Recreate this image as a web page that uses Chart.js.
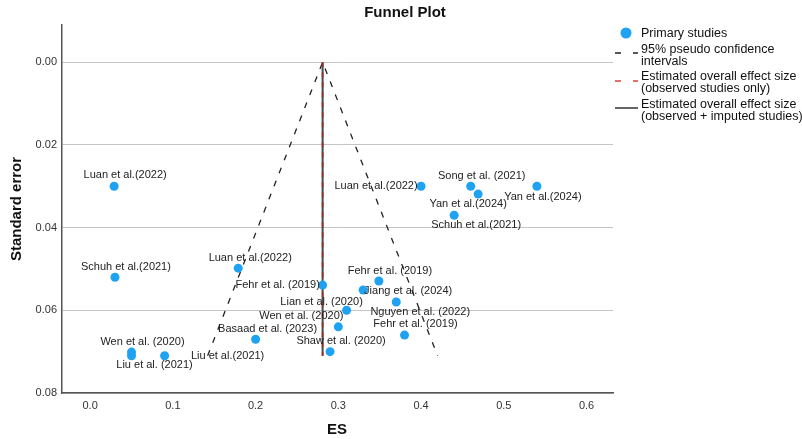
<!DOCTYPE html>
<html>
<head>
<meta charset="utf-8">
<title>Funnel Plot</title>
<script src="https://cdn.jsdelivr.net/npm/chart.js@4.4.1/dist/chart.umd.min.js"></script>
<style>
  html, body { margin: 0; padding: 0; background: #fff; }
  #wrap { position: relative; width: 802px; height: 439px; }
</style>
</head>
<body>
<div id="wrap"><canvas id="funnel" width="802" height="439"></canvas></div>
<script>
// study data
const studies = [
  'Luan et al.(2022)', 'Schuh et al.(2021)', 'Wen et al. (2020)', 'Liu et al. (2021)',
  'Liu et al.(2021)', 'Luan et al.(2022)', 'Basaad et al. (2023)', 'Fehr et al. (2019)',
  'Lian et al. (2020)', 'Wen et al. (2020)', 'Shaw et al. (2020)', 'Fehr et al. (2019)',
  'Jiang et al. (2024)', 'Nguyen et al. (2022)', 'Fehr et al. (2019)', 'Luan et al.(2022)',
  'Song et al. (2021)', 'Yan et al.(2024)', 'Yan et al.(2024)', 'Schuh et al.(2021)'
];
const esValues = [0.029, 0.030, 0.050, 0.050, 0.090, 0.179, 0.200, 0.281, 0.310, 0.300,
  0.290, 0.349, 0.330, 0.370, 0.380, 0.400, 0.460, 0.469, 0.540, 0.440];
const seValues = [0.030, 0.052, 0.0701, 0.0710, 0.0710, 0.0498, 0.067, 0.0539, 0.060, 0.064,
  0.070, 0.0529, 0.0551, 0.058, 0.066, 0.030, 0.030, 0.0319, 0.030, 0.037];

// funnel: pseudo 95% limits and pooled estimate
const ciEs = [0.142, 0.281, 0.420];
const ciSe = [0.071, 0, 0.071];
const pooledEs = [0.281, 0.281];
const pooledSe = [0, 0.071];

const xTicks = [0, 0.1, 0.2, 0.3, 0.4, 0.5, 0.6];
const yTicks = [0, 0.02, 0.04, 0.06, 0.08];

// where each study label sits relative to its dot (px)
const labelDx = [11, 11, 11, 23, 63, 12, 12, -45, -25, -37, 11, 11, 45, 24, 11, -45, 11, -10, 6, 22];
const labelDy = [-11, -10, -10, 9, 0, -10, -10, 0, -8, -11, -11, -10, 1, 10, -11, 0, -10, 10, 11, 10];

const FONT = '"Liberation Sans", Arial, sans-serif';
const BLUE = '#1fa2f2';
Chart.defaults.font.family = FONT;

const annotate = {
  id: 'annotate',
  afterDatasetsDraw(chart) {
    const { ctx } = chart;
    const xs = chart.scales.x, ys = chart.scales.y;
    ctx.save();
    ctx.font = '11px ' + FONT;
    ctx.fillStyle = '#222';
    ctx.textAlign = 'center';
    ctx.textBaseline = 'middle';
    studies.forEach((name, i) => {
      const px = xs.getPixelForValue(esValues[i]);
      const py = ys.getPixelForValue(seValues[i]);
      ctx.fillText(name, px + labelDx[i], py + labelDy[i]);
    });
    ctx.restore();
  },
  afterDraw(chart) {
    const { ctx } = chart;
    ctx.save();
    ctx.fillStyle = '#111';
    ctx.textBaseline = 'middle';

    // titles
    ctx.textAlign = 'center';
    ctx.font = 'bold 15px ' + FONT;
    ctx.fillText('Funnel Plot', 405, 13);
    ctx.fillText('ES', 337, 430);
    ctx.save();
    ctx.translate(17, 209);
    ctx.rotate(-Math.PI / 2);
    ctx.fillText('Standard error', 0, 0);
    ctx.restore();

    // legend
    ctx.beginPath();
    ctx.arc(626, 33, 5.5, 0, Math.PI * 2);
    ctx.fillStyle = BLUE;
    ctx.fill();

    ctx.fillStyle = '#111';
    ctx.textAlign = 'left';
    ctx.font = '12.5px ' + FONT;
    ctx.fillText('Primary studies', 641, 34);
    ctx.fillText('95% pseudo confidence', 641, 50);
    ctx.fillText('intervals', 641, 62);
    ctx.fillText('Estimated overall effect size', 641, 77);
    ctx.fillText('(observed studies only)', 641, 89);
    ctx.fillText('Estimated overall effect size', 641, 105);
    ctx.fillText('(observed + imputed studies)', 641, 117);

    ctx.lineWidth = 1.3;
    ctx.setLineDash([6, 12]);
    ctx.strokeStyle = '#222';
    ctx.beginPath(); ctx.moveTo(615, 53); ctx.lineTo(638, 53); ctx.stroke();
    ctx.strokeStyle = '#e0413a';
    ctx.beginPath(); ctx.moveTo(615, 81); ctx.lineTo(638, 81); ctx.stroke();
    ctx.setLineDash([]);
    ctx.strokeStyle = '#333';
    ctx.lineWidth = 1.5;
    ctx.beginPath(); ctx.moveTo(615, 108); ctx.lineTo(638, 108); ctx.stroke();
    ctx.restore();
  }
};

const ctx = document.getElementById('funnel').getContext('2d');
new Chart(ctx, {
  type: 'scatter',
  data: {
    datasets: [
      {
        label: 'Primary studies',
        data: esValues.map((x, i) => ({ x, y: seValues[i] })),
        backgroundColor: BLUE,
        borderWidth: 0,
        pointRadius: 4.5,
        order: 0
      },
      {
        label: '95% pseudo confidence intervals',
        data: ciEs.map((x, i) => ({ x, y: ciSe[i] })),
        showLine: true,
        borderColor: '#222',
        borderWidth: 1.3,
        borderDash: [6, 8],
        pointRadius: 0,
        order: 3
      },
      {
        label: 'Estimated overall effect size (observed + imputed studies)',
        data: pooledEs.map((x, i) => ({ x, y: pooledSe[i] })),
        showLine: true,
        borderColor: '#4a4a4a',
        borderWidth: 2,
        pointRadius: 0,
        order: 2
      },
      {
        label: 'Estimated overall effect size (observed studies only)',
        data: pooledEs.map((x, i) => ({ x, y: pooledSe[i] })),
        showLine: true,
        borderColor: '#9e2a22',
        borderWidth: 1.6,
        borderDash: [5, 5],
        pointRadius: 0,
        order: 1
      }
    ]
  },
  options: {
    responsive: false,
    animation: false,
    layout: { padding: { left: 0, top: 25, right: 189, bottom: 0 } },
    plugins: {
      legend: { display: false },
      title: { display: false },
      tooltip: { enabled: false }
    },
    scales: {
      x: {
        type: 'linear',
        min: -0.034,
        max: 0.632,
        afterBuildTicks: s => { s.ticks = xTicks.map(v => ({ value: v })); },
        afterFit: s => { s.height = 46; },
        grid: { display: false, drawTicks: false },
        border: { display: true, color: '#555', width: 1.5 },
        ticks: {
          padding: 6,
          color: '#333',
          font: { size: 11 },
          callback: v => Number(v).toFixed(1)
        }
      },
      y: {
        type: 'linear',
        reverse: true,
        min: -0.009,
        max: 0.08,
        afterBuildTicks: s => { s.ticks = yTicks.map(v => ({ value: v })); },
        afterFit: s => { s.width = 62; },
        grid: { color: '#c4c4c4', lineWidth: 1, drawTicks: false },
        border: { display: true, color: '#555', width: 1.5 },
        ticks: {
          padding: 5,
          color: '#333',
          font: { size: 11 },
          callback: v => Number(v).toFixed(2)
        }
      }
    }
  },
  plugins: [annotate]
});
</script>
</body>
</html>
